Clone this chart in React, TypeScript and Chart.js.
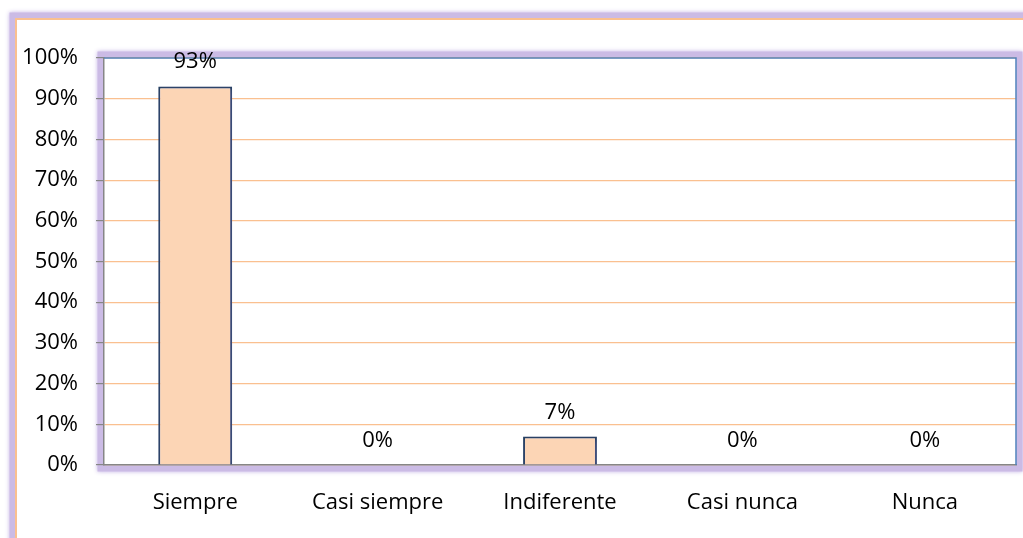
import React, { useEffect, useRef } from "react";
import { Chart, registerables } from "chart.js";

Chart.register(...registerables);

const categories = ["Siempre", "Casi siempre", "Indiferente", "Casi nunca", "Nunca"];
const values = [93, 0, 7, 0, 0];
const yTicks = [0, 10, 20, 30, 40, 50, 60, 70, 80, 90, 100];

const FONT = "'Open Sans', 'Liberation Sans', sans-serif";
const BAND = "#CBBBE5";

function glowRect(ctx: any, x: number, y: number, w: number, h: number) {
  ctx.save();
  ctx.shadowColor = "rgba(185,165,225,0.9)";
  ctx.shadowBlur = 4;
  ctx.strokeStyle = BAND;
  ctx.lineWidth = 6;
  ctx.strokeRect(x - 3.5, y - 3.5, w + 7, h + 7);
  ctx.restore();
}

const framePlugin = {
  id: "framePlugin",
  beforeDraw(chart: any) {
    const { ctx, chartArea: a, width, height } = chart;
    ctx.save();
    ctx.fillStyle = "#ffffff";
    ctx.fillRect(0, 0, width, height);
    glowRect(ctx, 16, 19, width + 50, height + 50);
    ctx.fillStyle = "#ffffff";
    ctx.fillRect(16, 19, width + 50, height + 50);
    ctx.strokeStyle = "#FAC090";
    ctx.lineWidth = 2;
    ctx.strokeRect(16, 19, width + 50, height + 50);
    glowRect(ctx, a.left, a.top, a.right - a.left, a.bottom - a.top);
    ctx.fillStyle = "#ffffff";
    ctx.fillRect(a.left, a.top, a.right - a.left, a.bottom - a.top);
    ctx.restore();
  },
  beforeDatasetsDraw(chart: any) {
    const ctx = chart.ctx;
    ctx.save();
    ctx.shadowColor = "rgba(140,120,200,0.4)";
    ctx.shadowBlur = 6;
    ctx.shadowOffsetX = 2;
    ctx.shadowOffsetY = 2;
  },
  afterDatasetsDraw(chart: any) {
    chart.ctx.restore();
  },
  afterDraw(chart: any) {
    const { ctx, chartArea: a } = chart;
    ctx.save();
    ctx.strokeStyle = "#4F81BD";
    ctx.lineWidth = 1.5;
    ctx.beginPath();
    ctx.moveTo(a.left, a.top);
    ctx.lineTo(a.right, a.top);
    ctx.lineTo(a.right, a.bottom);
    ctx.stroke();
    // data labels
    const meta = chart.getDatasetMeta(0);
    ctx.fillStyle = "#000000";
    ctx.font = "22px " + FONT;
    ctx.textAlign = "center";
    ctx.textBaseline = "alphabetic";
    meta.data.forEach((bar: any, i: number) => {
      ctx.fillText(values[i] + "%", bar.x, bar.y - 18);
    });
    ctx.restore();
  },
};

export default function App() {
  const ref = useRef<HTMLCanvasElement>(null);
  useEffect(() => {
    if (!ref.current) return;
    const chart = new Chart(ref.current, {
      type: "bar",
      data: {
        labels: categories,
        datasets: [
          {
            data: values,
            backgroundColor: "#FCD5B5",
            borderColor: "#243F60",
            borderWidth: 2,
            barPercentage: 0.405,
            categoryPercentage: 1,
          },
        ],
      },
      options: {
        responsive: false,
        animation: false,
        layout: { padding: { left: 0, top: 58, right: 7, bottom: 0 } },
        plugins: { legend: { display: false }, tooltip: { enabled: false } },
        scales: {
          x: {
            grid: { display: false, drawTicks: false },
            border: { display: true, color: "#868686", width: 1.5 },
            ticks: { color: "#000", font: { family: FONT, size: 22 }, padding: 25 },
            afterFit: (s: any) => {
              s.height = 73;
            },
          },
          y: {
            min: 0,
            max: 100,
            afterBuildTicks: (s: any) => {
              s.ticks = yTicks.map((v) => ({ value: v }));
            },
            grid: { color: "#FAC090", lineWidth: 1.2, tickColor: "#868686", tickLength: 8 },
            border: { display: true, color: "#868686", width: 1.5 },
            ticks: {
              color: "#000",
              font: { family: FONT, size: 22 },
              padding: 18,
              callback: (v: any) => v + "%",
            },
            afterFit: (s: any) => {
              s.width = 104;
            },
          },
        },
      },
      plugins: [framePlugin],
    });
    return () => chart.destroy();
  }, []);
  return (
    <div style={{ position: "absolute", left: 0, top: 0, width: 1023, height: 538 }}>
      <canvas ref={ref} width={1023} height={538} />
    </div>
  );
}
